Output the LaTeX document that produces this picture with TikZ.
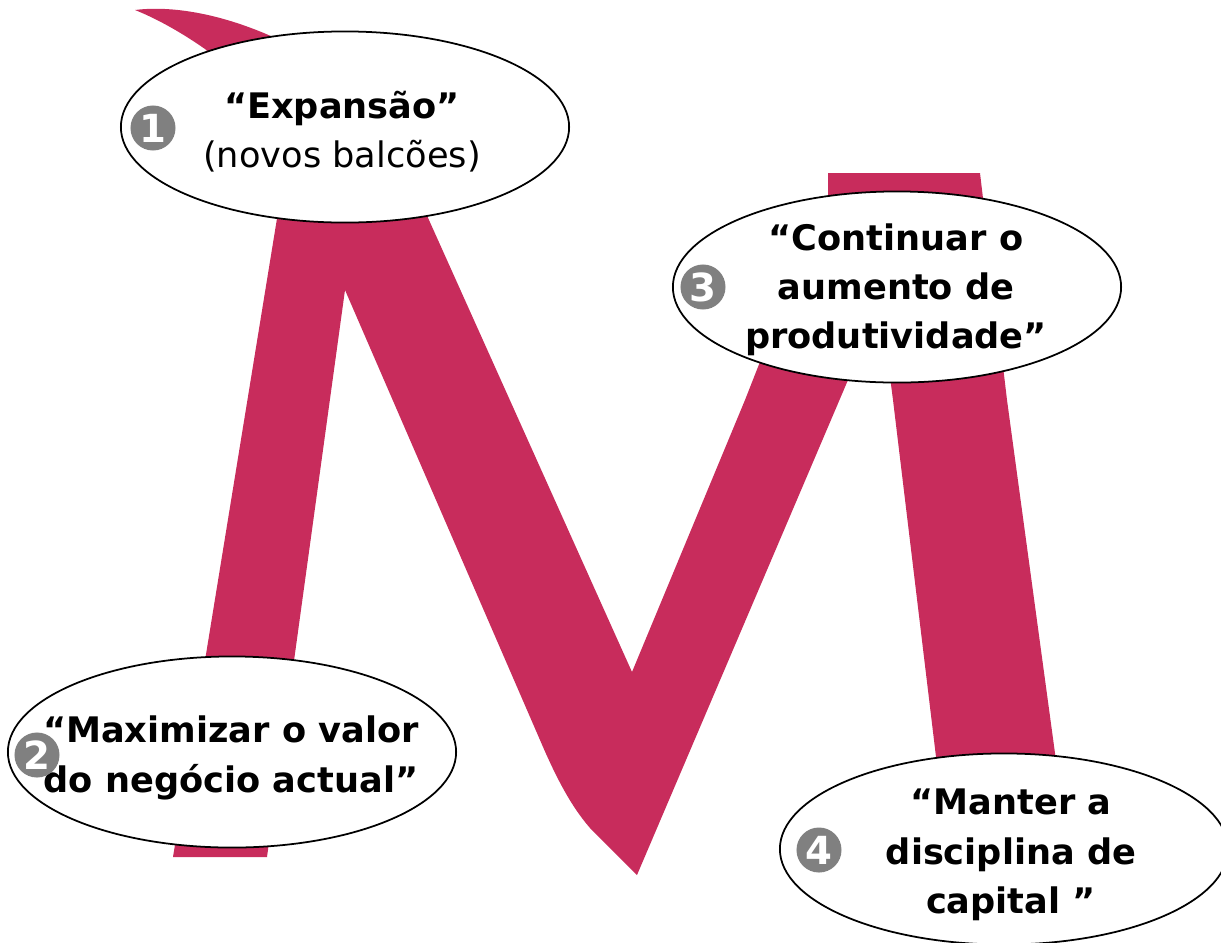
\documentclass[tikz,border=0pt]{standalone}
\usepackage{fontspec}
\setmainfont{DejaVu Sans}
\usepackage{tikz}
\usetikzlibrary{shapes.geometric}
\definecolor{ribbon}{RGB}{200,44,92}
\definecolor{dotgray}{RGB}{128,128,128}

\begin{document}
\begin{tikzpicture}[x=0.01cm, y=-0.01cm,
    bubble/.style = {draw, ellipse, fill=white, line width=0.5pt, inner sep=0pt, minimum width=4.48cm, minimum height=1.91cm},
    quote/.style = {align=center, inner sep=0pt, font=\bfseries\fontsize{10}{14}\selectfont},
    numdot/.style = {circle, fill=dotgray, text=white, inner sep=0pt, minimum size=0.45cm, font=\bfseries\fontsize{11}{11}\selectfont}]
        \clip (0,0) rectangle (1221,942);
        \fill[ribbon] (135,10) .. controls (175,5) and (230,15) .. (290,45)
            -- (420,200) -- (632,672) -- (745,400) -- (800,260) -- (828,200) -- (828,173)
            -- (980,173) -- (1007,400) -- (1060,790) -- (940,790) -- (893,400) -- (884,330)
            -- (848,380) -- (637,875) -- (590,828) .. controls (570,805) and (555,775) .. (540,740)
            -- (345,290) -- (267,857) -- (173,857) -- (280,200) -- (250,90)
            -- (205,49) .. controls (185,35) and (160,20) .. (135,10) -- cycle;
        \node[bubble] (e1) at (345,127) {};
        \node[bubble] (e2) at (232,752) {};
        \node[bubble] (e3) at (897,287) {};
        \node[bubble] (e4) at (1004,849) {};
        \node[quote] (t1) at (342,132) {“Expansão”\\\mdseries (novos balcões)};
        \node[quote] (t2) at (231,758) {“Maximizar o valor\\do negócio actual”};
        \node[quote] (t3) at (896,290) {“Continuar o\\aumento de\\produtividade”};
        \node[quote] (t4) at (1011,855) {“Manter a\\disciplina de\\capital ”};
        \node[numdot] (n1) at (153,128) {1};
        \node[numdot] (n2) at (37,755) {2};
        \node[numdot] (n3) at (703,287) {3};
        \node[numdot] (n4) at (819,850) {4};
      \end{tikzpicture}
\end{document}
